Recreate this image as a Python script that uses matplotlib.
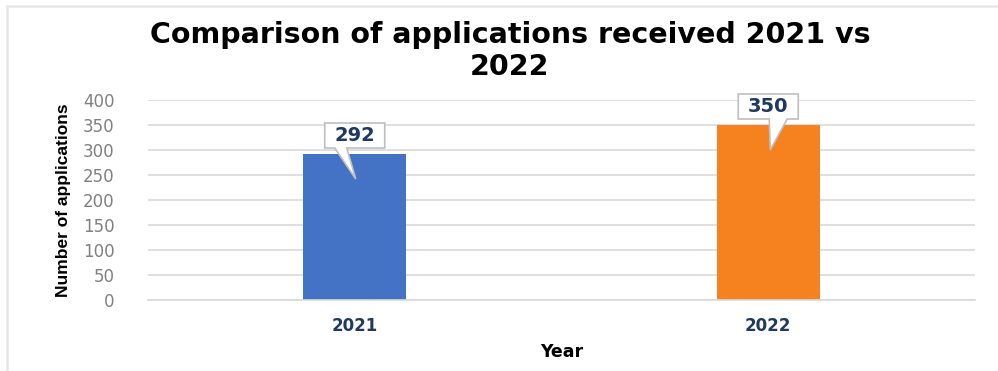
import matplotlib.pyplot as plt
plt.switch_backend('Agg')
import matplotlib.transforms as mtransforms
from matplotlib.patches import Polygon, Rectangle
import numpy as np

years = ['2021', '2022']
applications = [292, 350]
bar_colors = ['#4472C4', '#F5821F']
yticks = np.arange(0, 401, 50)

# callout tail: (base left, base right, tip x) in pixels from the bar centre
tails = [(-20, -8, 1), (1, 19, 2)]

fig = plt.figure(figsize=(9.98, 3.71), dpi=100)
ax = fig.add_axes([148 / 998, 1 - 300 / 371, 827 / 998, 200 / 371])

# faint frame line along the left and top of the chart area
fig.patches.append(Rectangle((7 / 998, -0.1), 1.2, 1.1 - 6 / 371,
                             transform=fig.transFigure, fill=False,
                             edgecolor='#e6e6e6', linewidth=1.8))

x = np.arange(len(years))
ax.bar(x, applications, width=0.25, color=bar_colors, zorder=2)

ax.set_xlim(-0.5, 1.5)
ax.set_ylim(0, 400)
ax.set_yticks(yticks)
ax.yaxis.grid(True, color='#d9d9d9', linewidth=1.2, zorder=0)
for s in ['top', 'right', 'left']:
    ax.spines[s].set_visible(False)
ax.spines['bottom'].set_color('#d9d9d9')
ax.spines['bottom'].set_linewidth(1.2)
ax.tick_params(axis='both', length=0)
ax.tick_params(axis='y', labelsize=12, labelcolor='#808080', pad=24)
ax.set_xticks(x)
ax.set_xticklabels(years, fontsize=12, fontweight='bold', color='#1F3864')
ax.tick_params(axis='x', pad=12)

ax.set_xlabel('Year', fontsize=12.5, fontweight='bold', labelpad=6)
ax.set_ylabel('Number of applications', fontsize=12.5, fontweight='bold',
              family=['Liberation Sans', 'DejaVu Sans'], labelpad=9)

fig.text(0.511, 1 - 51 / 371, 'Comparison of applications received 2021 vs\n2022',
         ha='center', va='center', fontsize=20.5, fontweight='bold',
         linespacing=1.2)

# callout labels with a tail pointing into each bar
px = 1 / 100
for xc, v, (bl, br, tip) in zip(x, applications, tails):
    trans = fig.dpi_scale_trans + mtransforms.ScaledTranslation(xc, v, ax.transData)
    w, b, t = 30, 6, 31
    verts = np.array([(-w, b), (bl, b), (tip, -25), (br, b), (w, b),
                      (w, t), (-w, t)]) * px
    ax.add_patch(Polygon(verts, closed=True, transform=trans, facecolor='white',
                         edgecolor='#bfbfbf', linewidth=1.2, zorder=4,
                         clip_on=False))
    ax.text(0, 18.5 * px, str(v), transform=trans, ha='center', va='center',
            fontsize=14, fontweight='bold', color='#1F3864', zorder=5)

fig.savefig('out.png', dpi=100)
